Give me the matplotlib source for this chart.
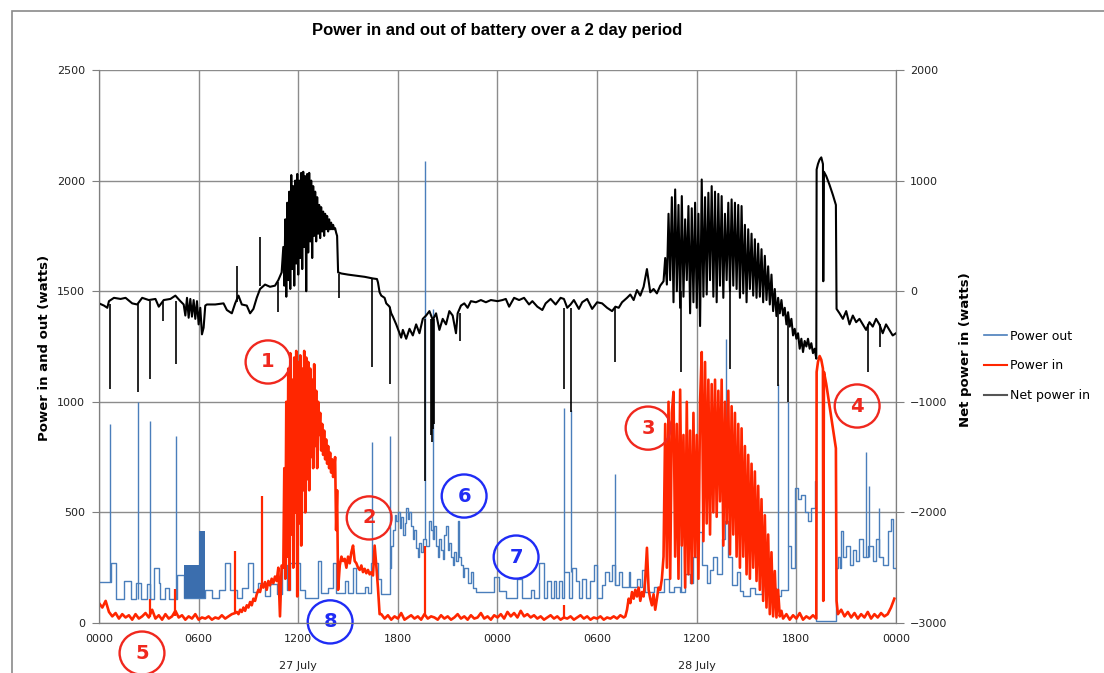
import numpy as np
import matplotlib.pyplot as plt
from matplotlib.patches import Ellipse, Rectangle
from matplotlib.lines import Line2D

# ----------------------------------------------------
# data : hours since 0000 on 27 July, watts
# ----------------------------------------------------
hour_ticks = [0, 6, 12, 18, 24, 30, 36, 42, 48]
hour_labels = ["0000", "0600", "1200", "1800", "0000", "0600", "1200", "1800", "0000"]
day_hours = [12, 36]
day_labels = ["27 July", "28 July"]

# power out (steps: level starting at each time)
out_t = [0.0, 0.7, 1.0, 1.5, 1.9, 2.2, 2.5, 2.9, 3.1, 3.3, 3.6, 3.7, 4.0, 4.2, 4.7, 5.1, 6.4, 6.8, 7.2, 7.6,
         7.9, 8.3, 8.6, 9.0, 9.3, 9.6, 10.0, 10.3, 10.7, 11.0, 11.3, 11.5, 12.1, 12.4, 13.2, 13.4, 13.8, 14.1, 14.3, 14.8,
         15.0, 15.3, 15.5, 16.0, 16.2, 16.4, 16.8, 17.0,
         17.5, 17.6, 17.7, 17.8, 17.9, 18.0, 18.1, 18.2, 18.3, 18.4, 18.5, 18.6, 18.7, 18.8, 18.9, 19.0, 19.1, 19.2, 19.3, 19.4,
         19.5, 19.7, 19.9, 20.0, 20.1, 20.2, 20.3, 20.4, 20.5, 20.6, 20.7, 20.8, 20.9, 21.0, 21.1, 21.2, 21.3, 21.4, 21.5, 21.6,
         21.7, 21.8, 21.9, 22.0, 22.2, 22.4, 22.5, 22.7, 23.8, 24.1,
         24.5, 25.2, 25.5, 26.0, 26.2, 26.5, 26.8, 27.0, 27.2, 27.4, 27.5, 27.7, 27.9, 28.0, 28.3, 28.5, 28.7, 28.9, 29.1, 29.3,
         29.6, 29.8, 30.0, 30.3, 30.5, 30.7, 30.9, 31.1, 31.3, 31.5, 31.9, 32.0, 32.4, 32.6, 32.7, 32.9, 33.4, 33.6, 34.0, 34.3,
         34.6, 35.0, 35.3, 35.6, 35.8, 36.0, 36.3, 36.6, 36.8, 37.0, 37.2, 37.5, 37.7, 37.9, 38.1, 38.4, 38.6, 38.8, 39.2, 39.5,
         39.9, 40.1, 40.5, 40.8, 41.1, 41.5, 41.7, 41.94, 42.1, 42.3, 42.5, 42.7, 42.9, 43.1, 43.2, 44.4, 44.5, 44.6, 44.7, 44.8,
         45.0, 45.2, 45.4, 45.6, 45.8, 46.0, 46.3, 46.6, 46.8, 47.0, 47.2, 47.5, 47.7, 47.82, 48.0]
out_w = [185, 270, 110, 190, 110, 180, 110, 175, 110, 250, 180, 110, 160, 110, 215, 112, 150, 115, 150, 270,
         150, 115, 160, 270, 140, 180, 120, 175, 130, 260, 150, 270, 150, 115, 280, 135, 160, 270, 135, 190,
         135, 250, 135, 165, 135, 270, 200, 130,
         250, 350, 420, 490, 460, 500, 430, 480, 400, 450, 520, 470, 500, 440, 380, 420, 340, 300, 360, 320,
         380, 350, 460, 420, 380, 440, 350, 300, 380, 330, 290, 400, 440, 330, 360, 300, 260, 320, 280, 460,
         300, 260, 210, 250, 180, 230, 160, 140, 210, 145,
         115, 200, 115, 150, 115, 270, 115, 190, 115, 190, 115, 190, 115, 230, 115, 250, 190, 115, 200, 115,
         190, 260, 115, 170, 230, 190, 260, 170, 230, 165, 230, 165, 200, 165, 240, 140, 165, 140, 200, 140,
         165, 140, 220, 180, 300, 410, 260, 180, 240, 300, 220, 380, 460, 300, 170, 230, 145, 120, 160, 130,
         190, 145, 160, 120, 150, 350, 250, 610, 560, 580, 500, 460, 520, 640, 10, 250, 300, 250, 415, 300,
         350, 260, 330, 280, 380, 300, 350, 280, 380, 300, 260, 415, 470, 250, 250]
# dense switching block just before 0600
out_block_t = [5.1, 6.05, 6.05, 6.4]
out_block_lo = [112, 112, 112, 112]
out_block_hi = [260, 260, 415, 415]
out_spike_t = [0.66, 2.34, 3.06, 4.62, 16.44, 17.52, 19.62, 20.1, 28.02, 28.44, 31.08, 35.04, 37.74, 40.92, 41.52, 46.2, 46.4, 47.0]
out_spike_lo = [185, 110, 110, 110, 270, 250, 380, 380, 230, 230, 170, 140, 460, 145, 350, 300, 300, 300]
out_spike_hi = [900, 1000, 915, 845, 820, 845, 2090, 1420, 970, 965, 675, 830, 1283, 1080, 1000, 775, 620, 520]

# power in, regular readings between the given start/end hours
in_night1_h = (0.0, 8.2)
in_night1 = [90, 70, 100, 50, 30, 45, 20, 40, 25, 35, 15, 40, 20, 30, 45, 25, 60, 20, 35, 15,
             40, 20, 30, 55, 25, 35, 15, 30, 20, 40, 15, 25, 20, 30, 15, 25, 20, 35, 20, 30, 40, 45]
in_ramp1_h = (8.3, 11.0)
in_ramp1 = [50, 40, 60, 50, 70, 55, 80, 70, 95, 80, 110, 100, 130, 150, 140, 175, 160, 185, 150, 190,
            170, 200, 180, 210, 190, 250, 30, 260]
in_noon1_h = (11.1, 14.4)
in_noon1 = [250, 700, 200, 1000, 300, 1150, 150, 1220, 400, 1100, 250, 1200, 500, 1230, 120, 1180, 450, 1210, 350, 1150,
            600, 1230, 500, 1200, 650, 1180, 600, 1150, 750, 1100, 700, 1170, 800, 1050, 700, 1000, 850, 950, 780, 900,
            760, 870, 740, 830, 720, 800, 700, 770, 680, 740, 660, 700, 750, 420, 600, 150]
in_aft1_h = (14.5, 16.9)
in_aft1 = [260, 300, 280, 290, 250, 300, 270, 320, 350, 280, 270, 250, 240, 260, 230, 245, 225, 240, 220, 230,
           215, 350, 260, 160, 40]
in_night2_h = (17.0, 31.6)
in_night2 = [40, 20, 35, 15, 30, 20, 45, 15, 25, 35, 20, 30, 15, 40, 20, 30, 25, 15, 35, 20,
             30, 15, 25, 40, 20, 30, 15, 35, 20, 25, 45, 20, 30, 15, 35, 25, 40, 20, 50, 30,
             45, 25, 55, 30, 40, 25, 35, 20, 30, 15, 25, 35, 20, 30, 15, 25, 20, 30, 15, 25,
             35, 20, 30, 15, 25, 20, 30, 15, 25, 20, 30, 20, 35, 25]
in_ramp2_h = (31.7, 33.9)
in_ramp2 = [30, 60, 110, 90, 140, 110, 150, 120, 160, 100, 140, 120, 200, 340, 150, 110, 80, 130, 60, 110,
            160, 150, 200]
in_noon2_h = (34.0, 41.1)
in_noon2 = [300, 900, 250, 1000, 200, 950, 1045, 300, 900, 200, 1055, 350, 850, 160, 1000, 220, 870, 180, 950, 300,
            850, 200, 1000, 1225, 370, 1180, 450, 1100, 400, 1080, 500, 1100, 480, 1050, 550, 1100, 350, 1000, 450, 1050,
            310, 980, 400, 950, 300, 900, 250, 880, 300, 800, 220, 760, 200, 720, 250, 685, 190, 620, 150, 560,
            100, 487, 70, 400, 40, 320, 30, 235, 25, 150, 30, 55]
in_eve2_h = (41.2, 43.2)
in_eve2 = [20, 40, 15, 35, 20, 45, 15, 30, 20, 35, 20]
in_surge_t = [43.22, 43.3, 43.4, 43.5, 43.6, 43.62, 43.66, 43.8, 44.0, 44.2, 44.38, 44.42]
in_surge = [1135, 1180, 1207, 1190, 1150, 100, 1135, 1080, 980, 880, 790, 100]
in_night3_h = (44.5, 47.9)
in_night3 = [40, 60, 30, 50, 25, 45, 20, 40, 25, 50, 20, 40, 25, 45, 30, 40, 70, 110]
in_spike_t = [3.1, 4.6, 8.2, 9.84, 19.62, 28.0]
in_spike_lo = [25, 30, 45, 170, 30, 20]
in_spike_hi = [110, 155, 325, 575, 350, 80]

# net power in (secondary axis)
net_a_t = [0.0, 0.3, 0.5, 0.6, 0.9, 1.3, 1.6, 2.0, 2.3, 2.6, 3.0, 3.4, 3.6, 3.9, 4.3, 4.6, 4.9, 5.1, 5.2, 5.3,
           5.4, 5.5, 5.6, 5.7, 5.8, 5.9, 6.0, 6.1, 6.2, 6.3, 6.4, 6.5, 7.0, 7.5, 7.7, 8.0, 8.2, 8.4, 8.6, 8.9,
           9.1, 9.3, 9.5, 9.7, 10.0, 10.3, 10.6, 10.8, 11.0]
net_a = [-110, -130, -150, -90, -60, -70, -60, -110, -120, -60, -80, -70, -140, -80, -70, -40, -90, -120, -220, -60,
         -240, -70, -230, -80, -250, -90, -300, -150, -390, -330, -130, -120, -120, -110, -170, -200, -110, -40, -120, -130,
         -200, -160, -60, 20, 60, 40, 50, 100, 170]
net_noon1_h = (11.1, 14.34)
net_noon1 = [400, 50, 650, -50, 800, 100, 900, 20, 1050, 200, 950, 50, 1000, 250, 1060, 150, 1000, 300, 1070, 200,
             1080, 400, 1040, 0, 1060, 350, 1070, 450, 1000, 300, 950, 500, 900, 450, 850, 520, 780, 480, 760, 540,
             720, 500, 700, 560, 680, 540, 650, 560, 620, 560, 600, 560, 570, 530, 500]
net_c_t = [14.4, 14.6, 15.0, 15.5, 16.0, 16.5, 16.74, 16.8, 16.9, 17.0, 17.2, 17.3, 17.5, 17.6, 17.7, 17.9, 18.1, 18.2, 18.3, 18.5,
           18.7, 18.9, 19.1, 19.3, 19.5, 19.7, 19.9, 20.1, 20.3, 20.5, 20.7, 20.9, 21.1, 21.3, 21.5, 21.6, 21.8, 22.0, 22.2, 22.4,
           22.7, 23.0, 23.3, 23.6, 24.0, 24.3, 24.5]
net_c = [170, 160, 150, 140, 130, 115, 110, 80, -10, -40, -60, -110, -140, -200, -230, -300, -380, -420, -350, -430,
         -340, -400, -300, -380, -250, -220, -180, -260, -200, -350, -250, -300, -180, -220, -380, -200, -130, -110, -150, -90,
         -100, -80, -100, -80, -90, -80, -70]
net_d_t = [24.7, 25.0, 25.3, 25.6, 25.9, 26.1, 26.4, 26.7, 26.9, 27.2, 27.5, 27.8, 28.0, 28.2, 28.4, 28.6, 28.9, 29.1, 29.4, 29.7,
           30.0, 30.3, 30.6, 30.9, 31.1, 31.3, 31.5, 31.8, 32.0, 32.2, 32.4, 32.6, 32.8, 33.0, 33.2, 33.4, 33.6, 33.8]
net_d = [-140, -60, -80, -60, -120, -90, -140, -170, -110, -70, -120, -60, -70, -150, -120, -80, -160, -100, -70, -160,
         -100, -110, -150, -180, -140, -150, -100, -60, -30, -80, 10, -40, 40, 200, -10, 20, -20, 50]
net_noon2_h = (34.0, 43.2)
net_noon2 = [90, 300, 60, 700, 100, 850, -100, 920, 0, 780, -150, 860, -50, 650, 100, 770, -200, 750, -100, 800,
             -150, 700, -315, 1010, -50, 850, -30, 890, 100, 950, -50, 900, -100, 880, 50, 860, -60, 700, 100, 800,
             0, 830, 50, 800, 20, 780, -60, 770, -20, 600, -100, 560, 20, 520, -40, 470, -60, 430, -50, 380,
             -100, 320, -80, 225, -120, 150, -180, 20, -225, -60, -200, -80, -220, -150, -300, -190, -320, -250, -400, -340,
             -430, -380, -520, -430, -550, -450, -500, -430, -520, -470, -560, -520, -610]
net_f_t = [43.22, 43.3, 43.4, 43.5, 43.6, 43.62, 43.66, 43.8, 44.0, 44.2, 44.38, 44.42, 44.6, 44.8, 45.0, 45.2, 45.4, 45.6, 45.8, 46.0,
           46.2, 46.4, 46.6, 46.8, 47.0, 47.2, 47.4, 47.6, 47.8, 48.0]
net_f = [1100, 1150, 1190, 1210, 1150, 90, 1080, 1040, 960, 870, 780, -160, -200, -250, -180, -300, -220, -280, -250, -300,
         -350, -280, -320, -250, -300, -380, -300, -350, -400, -380]
net_spike_t = [0.66, 2.34, 3.06, 3.84, 4.62, 8.34, 9.72, 10.8, 14.45, 16.44, 17.52, 19.62, 19.98, 20.04, 20.1, 20.16, 21.72,
               28.02, 28.44, 31.08, 35.04, 37.98, 40.92, 41.52, 46.32, 47.04]
net_spike_lo = [-120, -120, -90, -100, -90, -100, 50, 80, 160, 120, -140, -250, -250, -250, -250, -250, -200,
                -150, -150, -150, 0, 0, -100, -250, -300, -300]
net_spike_hi = [-880, -910, -790, -270, -660, 225, 490, -190, -60, -685, -840, -1720, -1300, -1360, -1250, -1200, -450,
                -880, -1090, -640, -730, -700, -860, -1000, -730, -500]

# numbered call-outs
mark_text = ["1", "2", "3", "4", "5", "6", "7", "8"]
mark_t = [10.18, 16.27, 33.07, 45.66, 2.59, 21.99, 25.12, 13.92]
mark_w = [1180, 475, 881, 981, -136, 574, 298, 5]
mark_col = ["#f0281e"] * 5 + ["#1f2cf5"] * 3

# ----------------------------------------------------
# helpers
# ----------------------------------------------------
def hours(span, vals):
    return np.linspace(span[0], span[1], len(vals))

in_t = np.concatenate([hours(in_night1_h, in_night1), hours(in_ramp1_h, in_ramp1), hours(in_noon1_h, in_noon1),
                       hours(in_aft1_h, in_aft1), hours(in_night2_h, in_night2), hours(in_ramp2_h, in_ramp2),
                       hours(in_noon2_h, in_noon2), hours(in_eve2_h, in_eve2), in_surge_t, hours(in_night3_h, in_night3)])
in_w = np.concatenate([in_night1, in_ramp1, in_noon1, in_aft1, in_night2, in_ramp2, in_noon2, in_eve2, in_surge, in_night3])

net_t = np.concatenate([net_a_t, hours(net_noon1_h, net_noon1), net_c_t, net_d_t, hours(net_noon2_h, net_noon2), net_f_t])
net_w = np.concatenate([net_a, net_noon1, net_c, net_d, net_noon2, net_f])

# ----------------------------------------------------
# plot
# ----------------------------------------------------
BLUE = "#4a7ebb"
RED = "#ff2600"
GRID = "#8c8c8c"

fig = plt.figure(figsize=(11.04, 6.73), dpi=100)
fig.add_artist(Rectangle((12 / 1104, -0.05), 1.2, 1.05 - 11 / 673, transform=fig.transFigure,
                         fill=False, ec="#8a8a8a", lw=1.2))

ax = fig.add_axes([99 / 1104, 1 - 623 / 673, (896 - 99) / 1104, (623 - 70) / 673])
ax.set_xlim(0, 48)
ax.set_ylim(0, 2500)
ax.set_xticks(hour_ticks)
ax.set_xticklabels(hour_labels)
ax.set_yticks(range(0, 2501, 500))
ax.grid(True, color=GRID, lw=1.0)
ax.set_axisbelow(True)

ax.step(out_t, out_w, where="post", color=BLUE, lw=1.0, zorder=3)
ax.fill_between(out_block_t, out_block_lo, out_block_hi, color="#3b6eae", lw=0, zorder=3)
ax.vlines(out_spike_t, out_spike_lo, out_spike_hi, color=BLUE, lw=1.0, zorder=3)

ax.plot(in_t, in_w, color=RED, lw=1.9, zorder=4)
ax.vlines(in_spike_t, in_spike_lo, in_spike_hi, color=RED, lw=1.6, zorder=4)

ax2 = ax.twinx()
ax2.set_ylim(-3000, 2000)
ax2.set_yticks(range(-3000, 2001, 1000))
ax2.plot(net_t, net_w, color="black", lw=1.5)
ax2.vlines(net_spike_t, net_spike_lo, net_spike_hi, color="black", lw=1.2)

for a in (ax, ax2):
    a.spines["top"].set_visible(False)
    for s in ("left", "right", "bottom"):
        a.spines[s].set_color("#7f7f7f")
ax.tick_params(axis="y", length=5, color="#7f7f7f", labelsize=8, pad=5, labelcolor="#222222")
ax.tick_params(axis="x", length=0, labelsize=8, pad=8, labelcolor="#222222")
ax2.tick_params(axis="y", length=6, color="#7f7f7f", labelsize=8, pad=4, labelcolor="#222222")

for h, lab in zip(day_hours, day_labels):
    ax.annotate(lab, xy=(h, 0), xycoords=("data", "axes fraction"), xytext=(0, -31),
                textcoords="offset points", ha="center", va="center", fontsize=8, color="#222222")

for txt, t, w, c in zip(mark_text, mark_t, mark_w, mark_col):
    ax.add_patch(Ellipse((t, w), 2.7, 195, fill=False, ec=c, lw=1.7, clip_on=False, zorder=6))
    ax.text(t, w, txt, color=c, fontsize=14, fontweight="bold", ha="center", va="center",
            clip_on=False, zorder=6)

fig.text(497 / 1104, 1 - 31 / 673, "Power in and out of battery over a 2 day period",
         ha="center", va="center", fontsize=12, fontweight="bold", family="Liberation Sans")
fig.text(45 / 1104, 1 - 348 / 673, "Power in and out (watts)", rotation=90,
         ha="center", va="center", fontsize=9.5, fontweight="bold")
fig.text(966 / 1104, 1 - 350 / 673, "Net power in (watts)", rotation=90,
         ha="center", va="center", fontsize=9.5, fontweight="bold")

handles = [Line2D([], [], color=BLUE, lw=1.2), Line2D([], [], color=RED, lw=1.5),
           Line2D([], [], color="#555555", lw=1.5)]
fig.legend(handles, ["Power out", "Power in", "Net power in"], loc="center left",
           bbox_to_anchor=(973 / 1104, 1 - 366 / 673), frameon=False, fontsize=9,
           handlelength=1.8, labelspacing=1.35, handletextpad=0.3)

fig.savefig("out.png", dpi=100)
